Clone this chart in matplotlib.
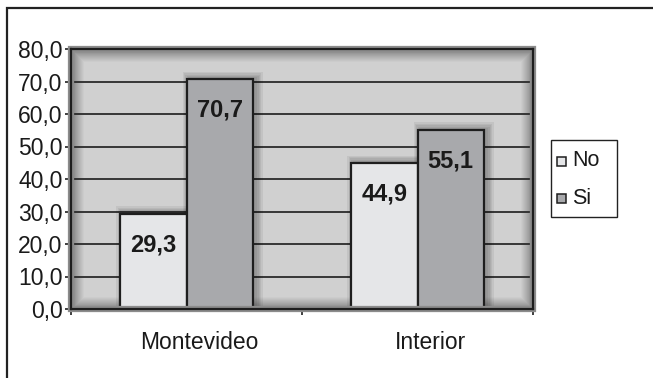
import numpy as np
import matplotlib
matplotlib.use("Agg")
import matplotlib.pyplot as plt
from matplotlib.patches import Rectangle
from matplotlib.ticker import FuncFormatter, FixedLocator
from matplotlib.transforms import ScaledTranslation

plt.rcParams['font.family'] = ['Liberation Sans', 'DejaVu Sans']

# survey shares by region (%)
regions = ["Montevideo", "Interior"]
series_names = ["No", "Si"]
no_vals = [29.3, 44.9]
si_vals = [70.7, 55.1]
y_ticks = [0, 10, 20, 30, 40, 50, 60, 70, 80]

colors = {"No": "#e5e6e8", "Si": "#a8a9ac"}
edge = "#1e1e1e"

W, H = 653, 378
fig = plt.figure(figsize=(W / 100, H / 100), dpi=100)
fig.patch.set_facecolor("white")

def fx(px):
    return px / W

def fy(py):
    return 1 - py / H

# outer chart frame (only top and left edges fall inside the image)
fig.patches.append(Rectangle((fx(7), -0.2), 1.5, 1.2 - 8 / H,
                             transform=fig.transFigure, fill=False,
                             edgecolor="#222222", lw=1.6, zorder=0))

ax_l, ax_r, ax_t, ax_b = 71, 533, 49, 309
ax = fig.add_axes([fx(ax_l), fy(ax_b), (ax_r - ax_l) / W, (ax_b - ax_t) / H])

# plot-area background with inner shadow toward the edges
pw, ph = ax_r - ax_l, ax_b - ax_t
xx, yy = np.meshgrid(np.arange(pw), np.arange(ph))
def ramp(d, width):
    return np.clip(d / width, 0, 1)
shade = np.minimum.reduce([ramp(xx, 13), ramp(pw - xx, 13),
                           ramp(yy, 13), ramp(ph - yy, 13)])
bg = 0.46 + (0.815 - 0.46) * shade ** 0.8
ax.imshow(bg, cmap="gray", vmin=0, vmax=1, extent=(-0.5, 1.5, 0, 80),
          aspect="auto", zorder=0, interpolation="bilinear")

ax.set_xlim(-0.5, 1.5)
ax.set_ylim(0, 80)

for y in y_ticks[1:-1]:
    ax.axhline(y, color="#2a2a2a", lw=1.3, zorder=1)

x = np.arange(len(regions))
bw = 0.287
px_x = 2.0 / pw     # one pixel in data units
px_y = 80.0 / ph

# soft shadows behind the bars, thrown to the right
for vals, off in ((no_vals, -bw / 2), (si_vals, bw / 2)):
    for k in range(5, 0, -1):
        grow = k * 1.4
        ax.bar(x + off + 3 * px_x, np.array(vals) + (0.5 + grow) * px_y,
               width=bw + 2 * grow * px_x, bottom=0,
               color="#000000", alpha=0.06, lw=0, zorder=2)

bars_no = ax.bar(x - bw / 2, no_vals, width=bw, color=colors["No"],
                 edgecolor=edge, lw=1.6, zorder=3)
bars_si = ax.bar(x + bw / 2, si_vals, width=bw, color=colors["Si"],
                 edgecolor=edge, lw=1.6, zorder=3)

for bars, vals in ((bars_no, no_vals), (bars_si, si_vals)):
    for b, v in zip(bars, vals):
        ax.annotate(f"{v:.1f}".replace(".", ","),
                    (b.get_x() + b.get_width() / 2, v),
                    xytext=(0, -22.5), textcoords="offset points",
                    ha="center", va="center", fontsize=17,
                    fontweight="bold", color="#1a1a1a", zorder=4)

for s in ax.spines.values():
    s.set_color("#1e1e1e")
    s.set_linewidth(1.6)
    s.set_zorder(5)

# light grey rim around plot area
ax.add_patch(Rectangle((0, 0), 1, 1, transform=ax.transAxes, fill=False,
                       edgecolor="#8c8c8c", lw=4.5, clip_on=False, zorder=4))

ax.set_yticks(y_ticks)
ax.yaxis.set_major_formatter(FuncFormatter(lambda v, p: f"{v:.1f}".replace(".", ",")))
ax.tick_params(axis="y", direction="out", length=4.5, width=1.2,
               color="#1e1e1e", labelsize=16.5, pad=1.5, labelcolor="#1a1a1a")

ax.set_xticks(x)
ax.set_xticklabels(regions)
ax.tick_params(axis="x", which="major", length=0, labelsize=16.5, pad=16,
               labelcolor="#1a1a1a")
# category labels sit a little right of the group centre
shift = ScaledTranslation(13 / 100, 0, fig.dpi_scale_trans)
for lab in ax.get_xticklabels():
    lab.set_transform(lab.get_transform() + shift)
ax.xaxis.set_minor_locator(FixedLocator([-0.5, 0.5, 1.5]))
ax.tick_params(axis="x", which="minor", direction="out", length=4.5,
               width=1.2, color="#1e1e1e")

# legend box
fig.patches.append(Rectangle((fx(551), fy(217)), (617 - 551) / W, (217 - 140) / H,
                             transform=fig.transFigure, facecolor="white",
                             edgecolor="#222222", lw=1.0, zorder=3))
for name, cy in zip(series_names, (161, 198)):
    fig.patches.append(Rectangle((fx(557), fy(cy + 4.5)), 9 / W, 9 / H,
                                 transform=fig.transFigure, facecolor=colors[name],
                                 edgecolor=edge, lw=1.1, zorder=4))
    fig.text(fx(572), fy(cy), name, fontsize=15.5, ha="left", va="center",
             color="#1a1a1a", zorder=5)

fig.savefig("out.png", dpi=100)
